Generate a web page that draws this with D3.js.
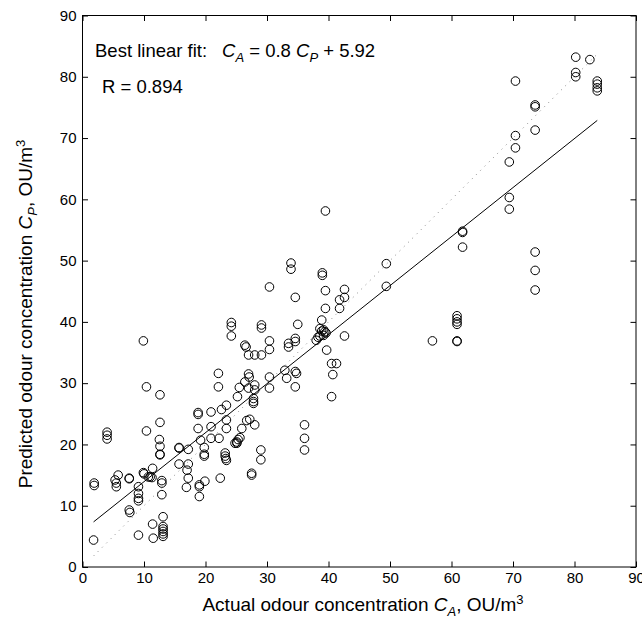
<!DOCTYPE html>
<html>
<head>
<meta charset="utf-8">
<script src="https://cdn.jsdelivr.net/npm/d3@7"></script>
<style>
  html, body { margin: 0; padding: 0; background: #fff; }
  svg { display: block; }
  text { font-family: "Liberation Sans", Arial, Helvetica, sans-serif; fill: #000; }
</style>
</head>
<body>
<svg id="chart" width="642" height="630"></svg>
<script>
// Actual odour concentration C_A (OU/m^3)
const actual = [
  1.9, 1.9, 1.8, 4.0, 4.0, 4.0, 5.8, 5.3, 5.5, 5.5,
  7.6, 7.6, 7.6, 7.7, 9.1, 9.1, 9.1, 9.1, 9.1, 9.9,
  10.4, 10.4, 9.9, 10.0, 10.7, 11.0, 11.3, 11.4, 11.4, 11.5,
  12.6, 12.6, 12.5, 12.6, 12.6, 12.6, 12.9, 12.9, 12.9, 13.1,
  13.1, 13.1, 13.1, 13.1, 13.1, 15.7, 15.7, 15.7, 17.2, 17.2,
  17.0, 17.2, 16.9, 18.8, 18.8, 18.8, 19.2, 19.8, 19.8, 19.8,
  19.0, 19.0, 19.0, 19.9, 20.9, 20.9, 20.9, 22.1, 22.1, 22.6,
  22.2, 22.4, 23.4, 23.4, 23.4, 23.2, 23.2, 23.3, 23.4, 24.8,
  25.1, 25.3, 25.6, 25.1, 25.9, 26.7, 27.2, 28.0, 25.5, 25.2,
  27.0, 27.1, 26.4, 27.0, 28.0, 28.0, 27.8, 27.8, 27.8, 30.4,
  30.4, 32.9, 33.2, 34.6, 34.8, 34.6, 29.0, 29.0, 27.5, 27.5,
  36.1, 36.1, 36.1, 40.5, 41.3, 40.7, 40.5, 39.7, 24.2, 26.4,
  26.6, 27.0, 28.0, 29.1, 30.4, 30.4, 33.5, 33.5, 34.6, 34.6,
  39.5, 33.9, 33.9, 39.0, 39.0, 30.4, 39.5, 34.6, 39.5, 38.9,
  24.2, 24.2, 29.1, 29.1, 35.0, 38.6, 38.9, 39.2, 39.4, 39.6,
  39.2, 38.6, 38.3, 38.0, 61.8, 61.8, 61.8, 49.4, 49.4, 42.6,
  42.6, 41.8, 41.8, 42.6, 56.9, 60.9, 60.9, 60.9, 60.9, 60.9,
  60.9, 73.6, 73.6, 73.6, 69.4, 69.4, 80.2, 82.5, 80.2, 80.2,
  83.7, 83.7, 83.7, 83.7, 70.4, 73.6, 73.6, 73.6, 70.4, 70.4,
  69.4
];
// Predicted odour concentration C_P (OU/m^3)
const predicted = [
  13.7, 13.3, 4.4, 22.0, 21.5, 20.9, 15.0, 14.2, 13.7, 13.1,
  14.5, 14.4, 9.3, 8.9, 13.1, 12.0, 11.2, 10.8, 5.2, 36.9,
  29.4, 22.2, 15.4, 15.2, 14.7, 14.7, 14.6, 16.1, 7.0, 4.7,
  28.1, 23.6, 20.8, 19.7, 18.4, 18.3, 14.1, 13.7, 11.8, 8.2,
  6.6, 6.2, 5.8, 5.4, 5.0, 19.5, 19.4, 16.8, 19.2, 16.8,
  15.8, 14.5, 13.0, 25.2, 24.9, 22.6, 20.7, 19.5, 18.4, 18.1,
  13.4, 13.1, 11.5, 14.0, 25.3, 22.9, 21.0, 31.6, 29.4, 25.7,
  21.0, 14.5, 26.4, 24.0, 22.6, 18.6, 18.1, 17.7, 17.4, 20.2,
  20.4, 20.8, 21.1, 20.2, 22.6, 23.9, 24.1, 23.2, 29.3, 27.8,
  31.5, 31.0, 30.2, 29.2, 29.7, 28.9, 27.5, 27.0, 26.7, 31.0,
  29.2, 32.1, 30.8, 31.9, 31.6, 29.4, 19.1, 17.5, 15.3, 15.0,
  23.2, 21.0, 19.1, 33.2, 33.2, 31.4, 27.8, 35.4, 37.7, 36.2,
  35.9, 34.6, 34.6, 34.6, 36.9, 35.5, 36.5, 35.9, 37.3, 36.8,
  58.1, 49.6, 48.6, 48.0, 47.6, 45.7, 45.1, 44.0, 42.2, 40.3,
  39.9, 39.3, 39.5, 39.0, 39.6, 38.9, 38.5, 38.7, 38.4, 38.2,
  37.8, 37.7, 37.5, 37.0, 54.8, 54.6, 52.2, 49.5, 45.8, 45.3,
  44.0, 43.6, 42.2, 37.7, 36.9, 41.0, 40.5, 40.0, 39.6, 36.9,
  36.8, 51.4, 48.4, 45.2, 60.3, 58.4, 83.2, 82.8, 80.7, 80.0,
  79.3, 78.8, 78.2, 77.7, 79.3, 75.4, 75.1, 71.3, 70.4, 68.4,
  66.1
];
const xTicks = [0, 10, 20, 30, 40, 50, 60, 70, 80, 90];
const yTicks = [0, 10, 20, 30, 40, 50, 60, 70, 80, 90];
const fitSlope = 0.8;
const fitIntercept = 5.92;
const fitR = 0.894;

const svg = d3.select("#chart");
const pL = 82.5, pR = 636, pT = 15.5, pB = 567;

const x = d3.scaleLinear().domain([0, 90]).range([pL, pR]);
const y = d3.scaleLinear().domain([0, 90]).range([pB, pT]);

// Box
svg.append("rect")
  .attr("x", pL).attr("y", pT)
  .attr("width", pR - pL).attr("height", pB - pT)
  .attr("fill", "none").attr("stroke", "#000").attr("stroke-width", 1);

const tickLen = 5.5;
function styleAxis(g) {
  g.select(".domain").remove();
  g.selectAll(".tick line").attr("stroke", "#000").attr("stroke-width", 1);
  g.selectAll(".tick text").style("font-size", "15px").attr("fill", "#000");
}
// bottom
svg.append("g").attr("transform", `translate(0,${pB})`)
  .call(d3.axisBottom(x).tickValues(xTicks).tickFormat(d3.format("d"))
    .tickSizeInner(-tickLen).tickSizeOuter(0).tickPadding(5))
  .call(styleAxis);
// top
svg.append("g").attr("transform", `translate(0,${pT})`)
  .call(d3.axisTop(x).tickValues(xTicks).tickFormat("")
    .tickSizeInner(-tickLen).tickSizeOuter(0))
  .call(styleAxis);
// left
svg.append("g").attr("transform", `translate(${pL},0)`)
  .call(d3.axisLeft(y).tickValues(yTicks).tickFormat(d3.format("d"))
    .tickSizeInner(-tickLen).tickSizeOuter(0).tickPadding(6))
  .call(styleAxis);
// right
svg.append("g").attr("transform", `translate(${pR},0)`)
  .call(d3.axisRight(y).tickValues(yTicks).tickFormat("")
    .tickSizeInner(-tickLen).tickSizeOuter(0))
  .call(styleAxis);

const xMin = d3.min(actual), xMax = d3.max(actual);

// y = x dotted line
svg.append("line")
  .attr("x1", x(xMin)).attr("y1", y(xMin))
  .attr("x2", x(xMax)).attr("y2", y(xMax))
  .attr("stroke", "#888").attr("stroke-width", 1)
  .attr("stroke-dasharray", "1,5");

// Best fit line
svg.append("line")
  .attr("x1", x(xMin)).attr("y1", y(fitSlope * xMin + fitIntercept))
  .attr("x2", x(xMax)).attr("y2", y(fitSlope * xMax + fitIntercept))
  .attr("stroke", "#000").attr("stroke-width", 1);

// Points
const pts = actual.map((a, i) => [a, predicted[i]]);
svg.append("g").selectAll("circle").data(pts).join("circle")
  .attr("cx", d => x(d[0])).attr("cy", d => y(d[1]))
  .attr("r", 4.3)
  .attr("fill", "none").attr("stroke", "#000").attr("stroke-width", 1);

// Annotations
const annFs = "18.5px", subFs = "13px", labFs = "19px";
const ann = svg.append("text").attr("x", 95).attr("y", 57).style("font-size", annFs);
ann.append("tspan").text("Best linear fit:");
ann.append("tspan").attr("x", 222).style("font-style", "italic").text("C");
ann.append("tspan").attr("dy", 5).style("font-size", subFs).style("font-style", "italic").text("A");
ann.append("tspan").attr("dy", -5).text(` = ${fitSlope} `);
ann.append("tspan").style("font-style", "italic").text("C");
ann.append("tspan").attr("dy", 5).style("font-size", subFs).style("font-style", "italic").text("P");
ann.append("tspan").attr("dy", -5).text(` + ${fitIntercept}`);

svg.append("text").attr("x", 102).attr("y", 93).style("font-size", annFs)
  .text(`R = ${fitR}`);

// X axis label
const xl = svg.append("text").attr("x", 363).attr("y", 611)
  .attr("text-anchor", "middle").style("font-size", labFs);
xl.append("tspan").text("Actual odour concentration ");
xl.append("tspan").style("font-style", "italic").text("C");
xl.append("tspan").attr("dy", 5).style("font-size", subFs).style("font-style", "italic").text("A");
xl.append("tspan").attr("dy", -5).text(", OU/m");
xl.append("tspan").attr("dy", -7).style("font-size", subFs).text("3");

// Y axis label
const yl = svg.append("text")
  .attr("transform", `translate(32,314) rotate(-90)`)
  .attr("text-anchor", "middle").style("font-size", labFs);
yl.append("tspan").text("Predicted odour concentration ");
yl.append("tspan").style("font-style", "italic").text("C");
yl.append("tspan").attr("dy", 5).style("font-size", subFs).style("font-style", "italic").text("P");
yl.append("tspan").attr("dy", -5).text(", OU/m");
yl.append("tspan").attr("dy", -7).style("font-size", subFs).text("3");
</script>
</body>
</html>
